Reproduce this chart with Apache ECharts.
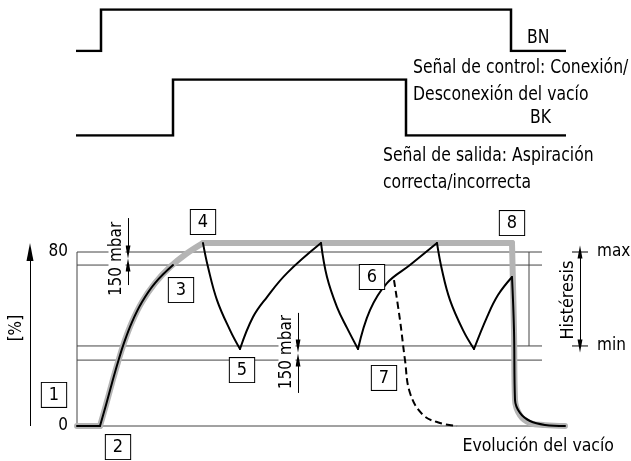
<!DOCTYPE html>
<html><head><meta charset="utf-8">
<script src="https://cdn.jsdelivr.net/npm/echarts@6/dist/echarts.min.js"></script>
<style>html,body{margin:0;padding:0;background:#fff}#c{width:631px;height:461px}</style>
</head><body><div id="c"></div>
<script>
// ---------- data (time in arbitrary units, vacuum in %) ----------
const signalBN = [[-0.2,0],[4.8,0],[4.8,1],[86.8,1],[86.8,0],[97.8,0]];
const signalBK = [[-0.2,0],[19.2,0],[19.2,1],[65.8,1],[65.8,0],[97.8,0]];
const levelValues = [80, 74, 36.8, 30.3, 0];
const levelEnd = 93;
const yTickLabels = [0, 80];

const grayStart = [[0,0],[4.6,0]];
const grayRise  = [[4.6,0],[5.8,9.7],[7,19.8],[8.2,29.4],[9.4,38.2],[11,47.8],[13,57],[15.6,65.7],[18.6,73.1],[21.8,79.1],[25.2,84.1]];
const grayTop   = [[25.2,84.1],[87,84.1]];
const grayFall  = [[87,84.1],[87.4,44],[87.6,12],[88.6,5],[90.6,1.4],[93.6,0.4],[97.6,0]];

const blackStart = [[0,0],[4.6,0]];
const blackRise  = [[4.6,0],[5.8,9.7],[7,19.8],[8.2,29.4],[9.4,38.2],[11,47.8],[13,57],[15.6,65.7],[19.2,74]];
const drop1 = [[25.2,84.1],[26.2,73.1],[28,57.9],[30.6,44.1],[32.6,35.4]];
const rise1 = [[32.6,35.4],[35.2,50.1],[38,59.3],[42,70.3],[48.8,84.1]];
const drop2 = [[48.8,84.1],[50,68.5],[52,54.7],[54,45.1],[56.2,35.4]];
const rise2 = [[56.2,35.4],[58.6,53.3],[62,65.7],[66.6,74],[72,84.1]];
const drop3 = [[72,84.1],[73,71.7],[74.6,57.9],[77.2,44.1],[79.4,35.4]];
const rise3 = [[79.4,35.4],[82,50.1],[84.2,60.2],[87,68.5]];
const dropEnd = [[87,68.5],[87.4,44.1],[87.6,12],[88.6,6],[90.6,2.3],[93.6,0.5],[97.6,0]];
const dashedFall = [[63.4,67.1],[64.6,48.7],[65.6,30.3],[66.6,15.2],[69.2,5.1],[72.6,1.4],[76,0]];

const boxMarks = [['1',-4.6,14.3],['2',8.2,-9.7],['3',20.8,62.5],['4',25.2,93.8],['5',33,25.7],['6',59,68.5],['7',61.4,22.1],['8',87,93.3]];

// ---------- styling / layout ----------
const NARROW = "'DejaVu Sans Condensed','DejaVu Sans',sans-serif";
const TECH = "'DejaVu Sans Condensed','DejaVu Sans',sans-serif";
const textMarks = [
  {text:'150 mbar', at:[8,76.8], rotate:90, bg:true, font:TECH, size:17},
  {text:'150 mbar', at:[42,34], rotate:90, bg:true, font:TECH, size:17},
  {text:'Histéresis', at:[98.2,57.9], rotate:90, font:NARROW, size:18},
  {text:'max', at:[104,80], align:'left', font:TECH, size:17},
  {text:'min', at:[104,36.8], align:'left', font:TECH, size:17},
  {text:'[%]', at:[-12,45], rotate:90, font:TECH, size:17},
  {text:'Evolución del vacío', at:[107.4,-9.2], align:'right', font:NARROW, size:17.5}
];

const chart = echarts.init(document.getElementById('c'), null, {renderer:'canvas'});
const series = [];
function line(data, color, width, z, extra) {
  series.push(Object.assign({type:'line', xAxisIndex:0, yAxisIndex:0, data, symbol:'none', silent:true, z,
    lineStyle:{color, width, cap:'round', join:'round'}}, extra || {}));
}
const thin = {lineStyle:{color:'#444', width:1}};
levelValues.forEach(v => line([[0,v],[levelEnd,v]], '#444', 1, 1, thin));
line([[0,0],[0,80]], '#444', 1, 1, thin);
line([[90.4,36.8],[90.4,80]], '#444', 1, 1, thin);
line([[99,80],[102.2,80]], '#000', 1, 1, {lineStyle:{color:'#000', width:1}});
line([[99,36.8],[102.2,36.8]], '#000', 1, 1, {lineStyle:{color:'#000', width:1}});

[grayStart, grayRise, grayTop, grayFall].forEach(d => line(d, '#b4b4b4', 6, 2, {smooth:0.4}));
[blackStart, blackRise, drop1, rise1, drop2, rise2, drop3, rise3, dropEnd].forEach(d => line(d, '#000', 2, 3, {smooth:0.4}));
line(dashedFall, '#000', 2, 3, {smooth:0.4, lineStyle:{color:'#000', width:2, type:[7,4]}});

function marker(pairs, sym, size) {
  series.push({type:'line', xAxisIndex:0, yAxisIndex:0, data:[], silent:true, z:4,
    markLine:{silent:true, animation:false, symbol:sym, symbolSize:size, label:{show:false},
      lineStyle:{type:'solid', color:'#000', width:1}, emphasis:{disabled:true},
      data: pairs.map(p => [{coord:p[0]},{coord:p[1]}])}});
}
marker([[[10.2,95.6],[10.2,80]],[[10.2,64.8],[10.2,74]],[[44.2,52],[44.2,36.8]],[[44.2,15.2],[44.2,30.3]]], ['none','triangle'], [5,13]);
marker([[[-9.4,0],[-9.4,80]]], ['none','triangle'], [7,18]);
marker([[[100.6,36.8],[100.6,80]]], ['triangle','triangle'], [5,13]);

// signals
series.push({type:'line', xAxisIndex:1, yAxisIndex:1, data:signalBN, symbol:'none', silent:true, lineStyle:{color:'#000', width:2.5, cap:'butt', join:'miter'}});
series.push({type:'line', xAxisIndex:2, yAxisIndex:2, data:signalBK, symbol:'none', silent:true, lineStyle:{color:'#000', width:2.5, cap:'butt', join:'miter'}});

// boxes
series.push({type:'scatter', xAxisIndex:0, yAxisIndex:0, symbolSize:1, silent:true, z:6,
  itemStyle:{color:'#fff'},
  data: boxMarks.map(b => ({name:b[0], value:[b[1], b[2]]})),
  label:{show:true, position:'inside', formatter:p => p.name, color:'#000', opacity:1, fontFamily:TECH, fontSize:18,
    backgroundColor:'#fff', borderColor:'#000', borderWidth:1, padding:[2,7,2,7], lineHeight:20}});
// text notes
series.push({type:'scatter', xAxisIndex:0, yAxisIndex:0, symbolSize:1, silent:true, z:6,
  itemStyle:{color:'#fff'},
  data: textMarks.map(t => ({name:t.text, value:t.at,
    label:{show:true, position:'inside', rotate:t.rotate || 0, align:t.align || 'center', verticalAlign:'middle',
      fontFamily:t.font, fontSize:t.size, color:'#000', opacity:1, textBorderWidth:0,
      backgroundColor: t.bg ? '#fff' : 'transparent', padding: t.bg ? [0,3] : 0}})),
  label:{show:true, color:'#000', formatter:p => p.name}});

const topTexts = [
  ['BN', 527, 38.5], ['Señal de control: Conexión/', 413, 68.5], ['Desconexión del vacío', 413, 95.5],
  ['BK', 530, 118.5], ['Señal de salida: Aspiración', 383, 156.5], ['correcta/incorrecta', 383, 183.5]
];

chart.setOption({
  animation:false,
  grid:[
    {left:7, right:4, top:217.2, height:243.6},
    {left:7, right:4, top:9.5, height:41.5},
    {left:7, right:4, top:79.5, height:56}
  ],
  xAxis:[0,1,2].map(i => ({type:'value', gridIndex:i, min:-14, max:110, show:false})),
  yAxis:[
    {type:'value', gridIndex:0, min:-16, max:96, interval:16, offset:-70, position:'left',
      axisLine:{show:false}, axisTick:{show:false}, splitLine:{show:false},
      axisLabel:{margin:9, color:'#000', fontFamily:TECH, fontSize:17,
        formatter: v => yTickLabels.includes(v) ? String(v) : ''}},
    {type:'value', gridIndex:1, min:0, max:1, show:false},
    {type:'value', gridIndex:2, min:0, max:1, show:false}
  ],
  graphic: topTexts.map(t => ({type:'text', x:t[1], y:t[2], scaleX:0.915, silent:true,
    style:{text:t[0], fill:'#000', font:'19px ' + NARROW, verticalAlign:'middle', textVerticalAlign:'middle'}})),
  series
});
</script></body></html>
